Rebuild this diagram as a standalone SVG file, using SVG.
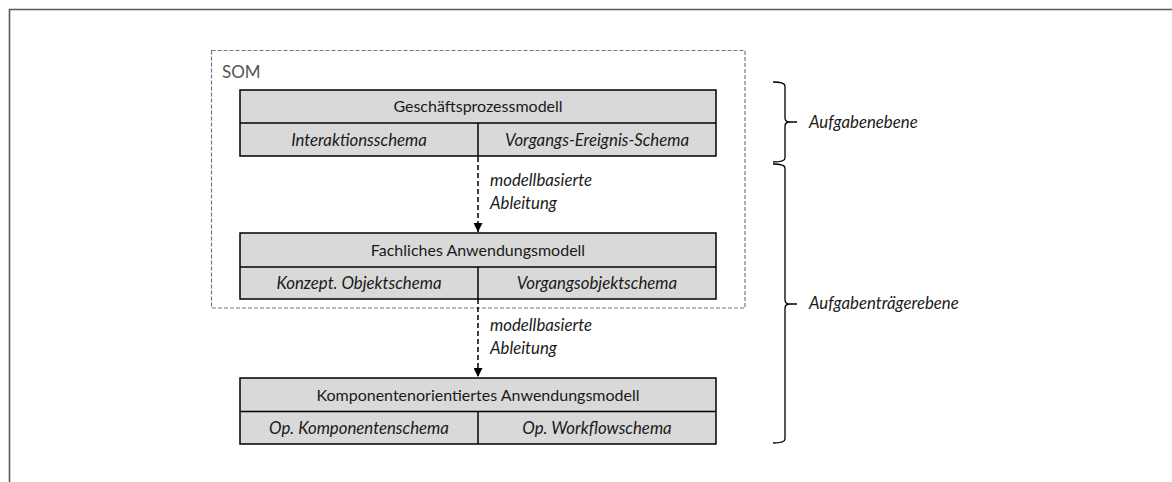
<svg xmlns="http://www.w3.org/2000/svg" width="1172" height="482" viewBox="0 0 1172 482">
<style>
  text { font-family: Lato, "Open Sans", "Liberation Sans", sans-serif; font-size: 16px; fill: #1a1a1a; }
  .it { font-style: italic; font-size: 16.8px; }
  .c { text-anchor: middle; }
  .box { fill: #d9d9d9; stroke: #000; stroke-width: 1.5; }
  .div { stroke: #000; stroke-width: 1.5; fill: none; }
  .dash { stroke: #000; stroke-width: 1.5; stroke-dasharray: 5 3; fill: none; }
  .brace { stroke: #000; stroke-width: 1.3; fill: none; }
</style>
<defs>
  <marker id="ah" viewBox="0 0 10 10" refX="10" refY="5" markerWidth="9" markerHeight="9" markerUnits="userSpaceOnUse" orient="auto">
    <path d="M0,0 L10,5 L0,10 Z" fill="#000"/>
  </marker>
</defs>
<rect width="1172" height="482" fill="#fff"/>
<path d="M9.5,482 V9.5 H1172" fill="none" stroke="#5a5a5a" stroke-width="1.6"/>

<g id="som">
  <rect x="211.5" y="50.5" width="533.5" height="257.5" fill="none" stroke="#777" stroke-width="1.2" stroke-dasharray="4 2"/>
  <text x="222" y="78" style="font-size:17px; fill:#555">SOM</text>
</g>

<g id="connectors">
  <line class="dash" x1="478" y1="157" x2="478" y2="232" marker-end="url(#ah)"/>
  <line class="dash" x1="478" y1="299" x2="478" y2="377" marker-end="url(#ah)"/>
  <text class="it" x="490" y="186">modellbasierte</text>
  <text class="it" x="490" y="209">Ableitung</text>
  <text class="it" x="490" y="331">modellbasierte</text>
  <text class="it" x="490" y="354">Ableitung</text>
</g>

<g id="geschaeftsprozessmodell">
  <rect class="box" x="240" y="90" width="476" height="66"/>
  <line class="div" x1="240" y1="123" x2="716" y2="123"/>
  <line class="div" x1="478" y1="123" x2="478" y2="156"/>
  <text class="c" x="478" y="112">Geschäftsprozessmodell</text>
  <text class="c it" x="359" y="145.5">Interaktionsschema</text>
  <text class="c it" x="597" y="145.5">Vorgangs-Ereignis-Schema</text>
</g>

<g id="fachliches">
  <rect class="box" x="240" y="233" width="476" height="66"/>
  <line class="div" x1="240" y1="267" x2="716" y2="267"/>
  <line class="div" x1="478" y1="267" x2="478" y2="299"/>
  <text class="c" x="478" y="256">Fachliches Anwendungsmodell</text>
  <text class="c it" x="359" y="289">Konzept. Objektschema</text>
  <text class="c it" x="597" y="289">Vorgangsobjektschema</text>
</g>

<g id="komponenten">
  <rect class="box" x="240" y="378" width="476" height="66"/>
  <line class="div" x1="240" y1="411.5" x2="716" y2="411.5"/>
  <line class="div" x1="478" y1="411.5" x2="478" y2="444"/>
  <text class="c" x="478" y="401">Komponentenorientiertes Anwendungsmodell</text>
  <text class="c it" x="359" y="434">Op. Komponentenschema</text>
  <text class="c it" x="597" y="434">Op. Workflowschema</text>
</g>

<g id="aufgabenebene">
  <path class="brace" d="M773,82 Q785,82 785,86 V118 Q785,122 790,122 H797 M790,122 Q785,122 785,126 V158 Q785,162 773,162"/>
  <text class="it" x="809" y="128">Aufgabenebene</text>
</g>

<g id="aufgabentraegerebene">
  <path class="brace" d="M773,164 Q785,164 785,168 V300 Q785,304 790,304 H797 M790,304 Q785,304 785,308 V439 Q785,443 773,443"/>
  <text class="it" x="809" y="309">Aufgabenträgerebene</text>
</g>
</svg>
